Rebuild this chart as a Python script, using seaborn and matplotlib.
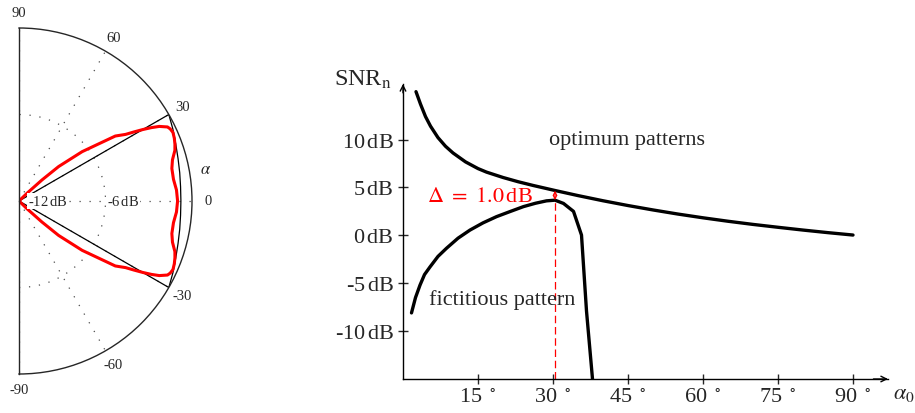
import numpy as np
import pandas as pd
import seaborn as sns
from matplotlib import pyplot as plt

# left panel: sector pattern in dB (half, mirrored about 0 deg)
pattern_theta = [0, 4, 8, 12, 15, 18, 20, 22, 24, 25.5, 26.5, 28, 29, 30, 31, 32, 34, 38, 41, 42.5, 44, 46]
pattern_db = [-1.0, -1.05, -1.18, -1.16, -0.98, -0.63, -0.49, -0.38, -0.31, -0.38, -0.49, -0.98,
              -1.5, -2.09, -2.7, -3.28, -3.94, -6.44, -8.36, -9.85, -11.2, -12.0]
sector_theta = [-30, -25, -20, -15, -10, -5, 0, 5, 10, 15, 20, 25, 30]
sector_db = [0.0, -0.22, -0.43, -0.58, -0.68, -0.75, -0.77, -0.75, -0.68, -0.58, -0.43, -0.22, 0.0]
theta_ticks = [-90, -60, -30, 0, 30, 60, 90]

# right panel: SNR vs alpha0
opt_alpha = [2.6, 3.5, 4.5, 5.5, 7, 8.5, 10, 12.5, 15, 16.7, 20, 23, 26, 30.5, 35, 40, 45,
             50, 55, 60, 65, 70, 75, 80, 85, 90]
opt_snr = [15.0, 13.7, 12.4, 11.4, 10.2, 9.3, 8.6, 7.67, 6.97, 6.6, 6.04, 5.6, 5.21, 4.67, 4.15,
           3.61, 3.11, 2.65, 2.22, 1.83, 1.47, 1.14, 0.84, 0.55, 0.28, 0.03]
fic_alpha = [1.7, 2.5, 3.4, 4.3, 5.4, 7, 8.7, 11, 13.4, 16, 18.7, 21.5, 24.1, 26.5, 28.7, 30.4,
             32.1, 34.1, 35.7, 36.7, 37.9]
fic_snr = [-8.1, -6.5, -5.2, -4.1, -3.3, -2.2, -1.35, -0.3, 0.55, 1.3, 1.95, 2.5, 3.0, 3.35, 3.6,
           3.67, 3.33, 2.5, 0.03, -7.9, -15.0]
delta_alpha = 30.4
delta_lo, delta_hi = 3.67, 4.67
x_ticks = [15, 30, 45, 60, 75, 90]
y_ticks = [-10, -5, 0, 5, 10]


def main():
    sns.set_style("white")
    plt.rcParams["font.family"] = ["Liberation Serif", "DejaVu Serif"]
    plt.rcParams["mathtext.fontset"] = "stix"

    fig = plt.figure(figsize=(9.15, 4.14), dpi=100)

    # ---- polar half-disc (square box, wedge centred in it)
    axp = fig.add_axes([-67.5 / 915, 39 / 414, 346 / 915, 346 / 414], projection="polar")
    axp.set_thetamin(-90)
    axp.set_thetamax(90)
    axp.set_rlim(-12, 0)
    axp.set_thetagrids(theta_ticks, labels=[str(t) for t in theta_ticks], fontsize=10.5)
    axp.set_rgrids([-6])
    axp.set_yticklabels([])
    axp.grid(True, color="0.3", linestyle=(0, (1, 7)), linewidth=0.9)
    axp.tick_params(axis="x", pad=1)
    for sp in axp.spines.values():
        sp.set_linewidth(1.0)

    th = np.deg2rad(np.array(pattern_theta))
    full_th = np.concatenate([-th[::-1], th[1:]])
    full_db = np.concatenate([np.array(pattern_db)[::-1], np.array(pattern_db)[1:]])

    for t in (-30, 30):
        axp.plot([np.deg2rad(t)] * 2, [-12, 0], color="black", lw=0.9)
    axp.plot(np.deg2rad(sector_theta), sector_db, color="black", lw=0.9)
    axp.plot(full_th, full_db, color="red", lw=2.2)

    axp.annotate("-12$\\,$dB", xy=(0, -12), xytext=(6.5, 0), textcoords="offset points",
                 ha="left", va="center", fontsize=10.5,
                 bbox=dict(fc="white", ec="none", pad=0.5))
    axp.annotate("-6$\\,$dB", xy=(0, -6), xytext=(1, 0), textcoords="offset points",
                 ha="left", va="center", fontsize=10.5,
                 bbox=dict(fc="white", ec="none", pad=0.5))
    fig.text(206 / 915, 1 - 170 / 414, r"$\alpha$", fontsize=12, ha="center", va="center")

    # ---- SNR plot
    ax = fig.add_axes([403 / 915, 34 / 414, 485 / 915, 295 / 414])
    df_opt = pd.DataFrame({"alpha0": opt_alpha, "snr": opt_snr})
    df_fic = pd.DataFrame({"alpha0": fic_alpha, "snr": fic_snr})
    sns.lineplot(data=df_opt, x="alpha0", y="snr", color="black", lw=2.4, sort=False, ax=ax)
    sns.lineplot(data=df_fic, x="alpha0", y="snr", color="black", lw=2.4, sort=False, ax=ax)

    ax.set_xlim(0, 97)
    ax.set_ylim(-15, 15.8)
    for s in ("top", "right"):
        ax.spines[s].set_visible(False)
    for s in ("left", "bottom"):
        ax.spines[s].set_linewidth(1.0)
        ax.spines[s].set_color("black")
    ax.annotate("", xy=(1.0, 0), xytext=(0.97, 0), xycoords="axes fraction",
                arrowprops=dict(arrowstyle="->", lw=1.0, color="black", shrinkA=0, shrinkB=0))
    ax.annotate("", xy=(0, 1.0), xytext=(0, 0.97), xycoords="axes fraction",
                arrowprops=dict(arrowstyle="->", lw=1.0, color="black", shrinkA=0, shrinkB=0))

    ax.set_xticks(x_ticks)
    ax.set_xticklabels([f"{v} $^\\circ$" for v in x_ticks])
    ax.set_yticks(y_ticks)
    ax.set_yticklabels([f"{v}$\\,$dB" for v in y_ticks])
    ax.tick_params(direction="inout", length=7, width=1, labelsize=16, pad=3,
                   bottom=True, left=True)
    ax.set_xlabel("")
    ax.set_ylabel("")

    # delta marker
    ax.plot([delta_alpha, delta_alpha], [-15, delta_lo], color="red", lw=0.9, ls=(0, (6, 3)))
    ax.annotate("", xy=(delta_alpha, delta_hi), xytext=(delta_alpha, delta_lo),
                arrowprops=dict(arrowstyle="<->", color="red", lw=0.9,
                                mutation_scale=6, shrinkA=0, shrinkB=0))
    ax.text(26, 4.1, r"$\Delta\ =\ 1.0\,$dB", color="red", fontsize=16, ha="right", va="center")

    ax.text(44.8, 10.0, "optimum patterns", fontsize=16, ha="center", va="center")
    ax.text(19.8, -6.7, "fictitious pattern", fontsize=16, ha="center", va="center")

    fig.text(392 / 915, 1 - 80 / 414, r"SNR$_\mathrm{n}$", fontsize=17.5, ha="right", va="center")
    fig.text(893 / 915, 1 - 395 / 414, r"$\alpha_0$", fontsize=16, ha="left", va="center")

    fig.savefig("out.png", dpi=100)
    return 0


if __name__ == "__main__":
    main()
